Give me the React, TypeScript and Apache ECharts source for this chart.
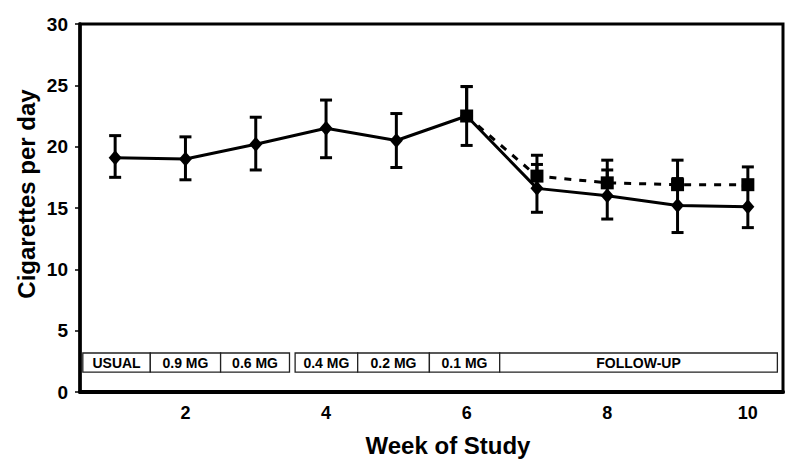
import React, { useEffect, useRef } from "react";
import * as echarts from "echarts";

const weeks = ["1", "2", "3", "4", "5", "6", "7", "8", "9", "10"];
const yTicks = [0, 5, 10, 15, 20, 25, 30];

// Solid series (diamonds) with symmetric error bars
const meanA = [19.1, 19.0, 20.2, 21.5, 20.5, 22.5, 16.6, 16.0, 15.2, 15.1];
const lowA = [17.5, 17.3, 18.1, 19.1, 18.3, 20.1, 14.65, 14.1, 13.0, 13.4];
const highA = [20.9, 20.8, 22.4, 23.8, 22.7, 24.9, 18.55, 18.1, 17.4, 16.8];

// Dashed series (squares), upper error bars only
const meanB: (number | null)[] = [null, null, null, null, null, 22.5, 17.6, 17.05, 16.9, 16.9];
const highB: (number | null)[] = [null, null, null, null, null, 24.9, 19.3, 18.9, 18.9, 18.35];

// Phase boxes (in week units)
const phaseLabels = ["USUAL", "0.9 MG", "0.6 MG", "0.4 MG", "0.2 MG", "0.1 MG", "FOLLOW-UP"];
const phaseStart = [0.54, 1.5, 2.5, 3.56, 4.45, 5.47, 6.47];
const phaseEnd = [1.5, 2.5, 3.48, 4.45, 5.47, 6.47, 10.42];
const phaseBottom = 1.62;
const phaseTop = 3.18;

const FONT = "Liberation Sans, Arial, Helvetica, sans-serif";

function errSeries(data: any[], lowCap: boolean) {
  return {
    type: "custom",
    z: 1,
    silent: true,
    encode: { x: 0, y: [1, 2] },
    data,
    renderItem: (params: any, api: any) => {
      const x = api.value(0);
      const lo = api.coord([x, api.value(1)]);
      const hi = api.coord([x, api.value(2)]);
      const hw = 6;
      const st = { stroke: "#000", lineWidth: 3 };
      const children: any[] = [
        { type: "line", shape: { x1: lo[0], y1: lo[1], x2: hi[0], y2: hi[1] }, style: st },
        { type: "line", shape: { x1: hi[0] - hw, y1: hi[1], x2: hi[0] + hw, y2: hi[1] }, style: st },
      ];
      if (lowCap) {
        children.push({ type: "line", shape: { x1: lo[0] - hw, y1: lo[1], x2: lo[0] + hw, y2: lo[1] }, style: st });
      }
      return { type: "group", children };
    },
  };
}

export default function App() {
  const ref = useRef<HTMLDivElement>(null);
  useEffect(() => {
    if (!ref.current) return;
    const chart = echarts.init(ref.current, undefined, { renderer: "svg" });
    const errA = weeks.map((_, i) => [i, lowA[i], highA[i]]);
    const errB: any[] = [];
    weeks.forEach((_, i) => {
      if (meanB[i] != null && highB[i] != null) errB.push([i, meanB[i], highB[i]]);
    });
    chart.setOption({
      animation: false,
      backgroundColor: "#fff",
      grid: {
        left: 80,
        right: 17,
        top: 24,
        bottom: 81,
        show: true,
        borderColor: "#000",
        borderWidth: 3,
      },
      xAxis: {
        type: "category",
        data: weeks,
        boundaryGap: true,
        axisLine: { lineStyle: { color: "#000", width: 4 } },
        axisTick: { interval: 0, length: 5, lineStyle: { color: "#000", width: 1.5 } },
        axisLabel: {
          interval: (i: number) => i % 2 === 1,
          color: "#000",
          fontFamily: FONT,
          fontWeight: "bold",
          fontSize: 18,
          margin: 12,
        },
        splitLine: { show: false },
      },
      yAxis: {
        type: "value",
        min: 0,
        max: 30,
        interval: 5,
        axisLine: { show: true, lineStyle: { color: "#000", width: 3.5 } },
        axisTick: { show: true, length: 5, lineStyle: { color: "#000", width: 1.5 } },
        axisLabel: {
          color: "#000",
          fontFamily: FONT,
          fontWeight: "bold",
          fontSize: 19,
          margin: 12,
          formatter: (v: number) => (yTicks.includes(v) ? String(v) : ""),
        },
        splitLine: { show: false },
      },
      graphic: [
        {
          type: "text",
          x: 26,
          y: 194,
          rotation: Math.PI / 2,
          style: {
            text: "Cigarettes per day",
            fill: "#000",
            fontFamily: FONT,
            fontWeight: "bold",
            fontSize: 24,
            align: "center",
            verticalAlign: "middle",
          },
        },
        {
          type: "text",
          x: 448,
          y: 445,
          style: {
            text: "Week of Study",
            fill: "#000",
            fontFamily: FONT,
            fontWeight: "bold",
            fontSize: 24,
            align: "center",
            verticalAlign: "middle",
          },
        },
      ],
      series: [
        {
          type: "custom",
          z: 0,
          silent: true,
          encode: { x: 0, y: 1 },
          data: phaseLabels.map((_, i) => [i, 2]),
          renderItem: (params: any, api: any) => {
            const i = params.dataIndex;
            const catW = api.size([1, 0])[0];
            const c1 = api.coord([0, 0])[0];
            const x0 = c1 + (phaseStart[i] - 1) * catW;
            const x1 = c1 + (phaseEnd[i] - 1) * catW;
            const yT = api.coord([0, phaseTop])[1];
            const yB = api.coord([0, phaseBottom])[1];
            return {
              type: "group",
              children: [
                {
                  type: "rect",
                  shape: { x: x0, y: yT, width: x1 - x0, height: yB - yT },
                  style: { fill: "#fff", stroke: "#222", lineWidth: 1.3 },
                },
                {
                  type: "text",
                  x: (x0 + x1) / 2,
                  y: (yT + yB) / 2 + 0.5,
                  style: {
                    text: phaseLabels[i],
                    fill: "#000",
                    fontFamily: FONT,
                    fontWeight: "bold",
                    fontSize: 14,
                    align: "center",
                    verticalAlign: "middle",
                  },
                },
              ],
            };
          },
        },
        errSeries(errA, true),
        errSeries(errB, false),
        {
          type: "line",
          z: 3,
          data: meanB,
          connectNulls: false,
          symbol: "rect",
          symbolSize: 13,
          itemStyle: { color: "#000" },
          lineStyle: { color: "#000", width: 3, type: [7, 8] },
        },
        {
          type: "line",
          z: 4,
          data: meanA,
          symbol: "diamond",
          symbolSize: [13, 15],
          itemStyle: { color: "#000" },
          lineStyle: { color: "#000", width: 3 },
        },
      ],
    });
    return () => chart.dispose();
  }, []);
  return <div ref={ref} style={{ width: 800, height: 473, position: "absolute", left: 0, top: 0 }} />;
}
